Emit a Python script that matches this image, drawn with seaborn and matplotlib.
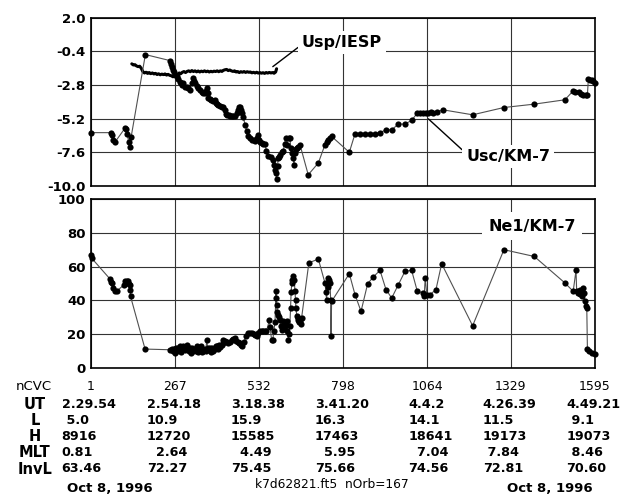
import numpy as np
import matplotlib
matplotlib.use("Agg")
import matplotlib.pyplot as plt
import matplotlib.transforms as mtransforms
import seaborn as sns

# data
usc_x = [1, 64, 68, 72, 76, 108, 112, 116, 120, 124, 128, 173, 251, 255, 258, 261, 265, 268, 272, 276,
         282, 285, 288, 292, 297, 304, 309, 314, 319, 325, 328, 330, 335, 340, 346, 352, 356, 361, 364, 367,
         370, 372, 376, 380, 388, 392, 396, 400, 404, 410, 414, 419, 424, 428, 432, 438, 442, 446, 451, 456,
         462, 467, 470, 472, 475, 478, 483, 488, 494, 499, 504, 509, 515, 520, 525, 528, 532, 537, 541, 546,
         551, 556, 562, 570, 578, 580, 583, 586, 588, 591, 593, 596, 599, 604, 609, 613, 618, 622, 626, 630,
         633, 636, 640, 643, 646, 649, 652, 656, 662, 688, 720, 741, 746, 752, 757, 762, 818, 836, 852, 867,
         883, 899, 915, 934, 952, 973, 994, 1015, 1033, 1043, 1052, 1060, 1068, 1075, 1082, 1094, 1113, 1208,
         1307, 1403, 1500, 1524, 1532, 1545, 1552, 1558, 1565, 1571, 1574, 1580, 1585, 1590, 1595]
usc_y = [-6.2, -6.2, -6.4, -6.7, -6.9, -5.9, -5.95, -6.3, -6.9, -7.2, -6.5, -0.64, -1.07, -1.3, -1.5, -1.73, -1.9, -2.1, -2.2, -2.4,
         -2.56, -2.7, -2.8, -2.65, -2.95, -2.92, -3.05, -3.15, -2.7, -2.32, -2.5, -2.68, -2.9, -3.0, -3.15, -3.3, -3.4, -3.39, -3.2, -3.03,
         -3.4, -3.74, -3.8, -3.9, -3.98, -3.9, -4.1, -4.15, -4.22, -4.3, -4.34, -4.34, -4.6, -4.9, -4.93, -4.95, -5.0, -5.05, -5.0, -4.98,
         -4.8, -4.57, -4.4, -4.34, -4.6, -4.81, -5.1, -5.64, -6.1, -6.47, -6.6, -6.71, -6.75, -6.83, -6.6, -6.4, -6.75, -6.9, -6.94, -7.0,
         -7.01, -7.5, -7.89, -7.9, -8.13, -8.5, -8.84, -9.1, -9.5, -8.6, -8.0, -7.9, -7.77, -7.6, -7.54, -7.0, -6.55, -7.06, -6.55, -6.6,
         -7.3, -7.65, -8.0, -8.48, -7.65, -7.4, -7.3, -7.2, -7.06, -9.2, -8.36, -7.06, -6.9, -6.71, -6.6, -6.47, -7.6, -6.28, -6.28, -6.28,
         -6.28, -6.28, -6.2, -6.0, -6.0, -5.59, -5.59, -5.33, -4.81, -4.79, -4.77, -4.77, -4.77, -4.76, -4.77, -4.75, -4.57, -4.93,
         -4.41, -4.17, -3.86, -3.27, -3.3, -3.3, -3.45, -3.51, -3.5, -3.5, -2.39, -2.42, -2.44, -2.55, -2.68]

usp_x = [130, 135, 140, 145, 150, 155, 160, 165, 170, 175, 180, 185, 190, 195, 200, 205, 210, 215, 220, 225,
         230, 235, 240, 245, 250, 255, 260, 265, 270, 275, 280, 285, 290, 295, 300, 305, 310, 315, 320, 325,
         330, 335, 340, 345, 350, 355, 360, 365, 370, 375, 380, 385, 390, 395, 400, 405, 410, 415, 420, 425,
         430, 435, 440, 445, 450, 455, 460, 465, 470, 475, 480, 485, 490, 495, 500, 505, 510, 515, 520, 525,
         530, 535, 540, 545, 550, 555, 560, 565, 570, 575, 580, 585, 588]
usp_y = [-1.30, -1.38, -1.36, -1.45, -1.50, -1.47, -1.62, -1.85, -1.95, -1.90, -1.98, -1.92, -2.00, -1.95, -2.02, -1.98, -2.06, -2.01, -2.08, -2.03,
         -2.07, -2.02, -2.10, -2.05, -2.12, -2.15, -2.22, -2.18, -2.10, -2.05, -1.95, -2.00, -1.90, -1.85, -1.92, -1.84, -1.80, -1.86, -1.78, -1.85,
         -1.80, -1.87, -1.81, -1.88, -1.82, -1.86, -1.80, -1.86, -1.82, -1.88, -1.83, -1.87, -1.82, -1.85, -1.80, -1.86, -1.80, -1.84, -1.76, -1.72,
         -1.70, -1.78, -1.74, -1.80, -1.84, -1.80, -1.88, -1.85, -1.92, -1.86, -1.90, -1.85, -1.91, -1.86, -1.90, -1.88, -1.94, -1.90, -1.95, -1.90,
         -1.96, -1.92, -1.97, -1.93, -1.98, -1.92, -1.96, -1.91, -1.95, -1.92, -1.97, -1.88, -1.65]

ne_x = [1, 3, 61, 64, 66, 71, 77, 82, 104, 108, 114, 119, 122, 124, 125, 126, 172, 251, 256, 260,
        264, 267, 271, 274, 277, 282, 286, 290, 293, 297, 300, 304, 308, 311, 314, 318, 321, 325, 329, 332,
        335, 339, 342, 346, 350, 353, 356, 360, 364, 367, 370, 374, 377, 381, 385, 388, 392, 395, 398, 402,
        406, 410, 414, 417, 419, 425, 430, 435, 440, 446, 451, 456, 460, 465, 469, 472, 475, 478, 485, 492,
        499, 504, 509, 515, 520, 525, 530, 535, 541, 546, 551, 556, 565, 568, 572, 576, 579, 583, 586, 587,
        588, 590, 593, 596, 599, 602, 604, 607, 609, 612, 614, 617, 620, 622, 625, 627, 630, 632, 634, 636,
        638, 641, 644, 646, 648, 649, 652, 655, 657, 660, 662, 664, 667, 690, 720, 741, 744, 746, 749, 752,
        755, 757, 759, 760, 762, 818, 836, 855, 876, 894, 915, 934, 952, 973, 994, 1015, 1033, 1052, 1055, 1058,
        1063, 1073, 1092, 1110, 1208, 1307, 1403, 1500, 1526, 1535, 1537, 1542, 1546, 1549, 1553, 1556, 1560, 1563, 1566, 1569,
        1571, 1577, 1585, 1595]
ne_y = [67, 65, 52.7, 51, 50.3, 47.4, 45.4, 45.4, 49, 51.3, 51.3, 51.3, 50, 49.3, 46.4, 42.4, 11.2, 10.8, 11.5, 9.8,
        11, 8.9, 12, 10, 11.8, 13, 9.5, 12, 12.8, 10.5, 12.5, 13.8, 12, 10, 11.8, 9, 12, 9.8, 11.5, 10,
        12.8, 9.5, 11, 10.8, 13, 9.2, 9.8, 11.5, 10, 16.3, 12, 10.5, 11.8, 9.5, 12, 9.8, 11, 13, 12.8, 11,
        13.5, 12.5, 13.8, 15, 16.3, 16, 15.5, 14.8, 15.5, 16.8, 17, 17.7, 16, 15.5, 14.5, 14.8, 13.5, 12.8, 15.5, 19,
        20.7, 21, 20.7, 20, 19.5, 18.7, 21, 21.7, 21.7, 21.7, 21.7, 21.7, 28.2, 24, 16.3, 16.3, 22, 27, 45.4, 41.4,
        37.5, 33, 31.6, 30, 28.6, 25, 22.7, 25, 27.6, 24, 25, 26, 27.6, 22, 16.8, 20, 25, 35.5, 45, 50.3,
        52, 54.2, 52, 45.4, 40, 35.5, 30.6, 29.5, 28.6, 27, 27.6, 26, 29.6, 62.2, 64.5, 50.3, 45, 40.4, 48, 53.3,
        52, 50.3, 40, 18.7, 39.4, 55.8, 43.4, 33.5, 49.9, 53.9, 57.8, 46.4, 41.4, 49.3, 57.2, 57.8, 45.4, 44.4, 42.8, 53.3,
        43.4, 43.4, 46.4, 61.7, 25, 70, 66, 50.3, 45.4, 57.8, 45.4, 44.4, 46.4, 44, 42.4, 47.4, 44.4, 39.4, 36.5, 35.5,
        11.2, 9.8, 8.9, 8.3]

ncvc_ticks = [1, 267, 532, 798, 1064, 1329, 1595]
top_yticks = [2.0, -0.4, -2.8, -5.2, -7.6, -10.0]
bot_yticks = [0, 20, 40, 60, 80, 100]

row_names = ["UT", "L", "H", "MLT", "InvL"]
ut_vals = ["2.29.54", "2.54.18", "3.18.38", "3.41.20", "4.4.2", "4.26.39", "4.49.21"]
l_vals = [" 5.0", "10.9", "15.9", "16.3", "14.1", "11.5", " 9.1"]
h_vals = ["8916", "12720", "15585", "17463", "18641", "19173", "19073"]
mlt_vals = ["0.81", "  2.64", "  4.49", "  5.95", "  7.04", " 7.84", " 8.46"]
invl_vals = ["63.46", "72.27", "75.45", "75.66", "74.56", "72.81", "70.60"]

sns.set_style("white")
plt.rcParams["font.family"] = ["DejaVu Sans"]
plt.rcParams["axes.unicode_minus"] = False
plt.rcParams["text.color"] = "black"
plt.rcParams["xtick.color"] = "black"
plt.rcParams["ytick.color"] = "black"

fig = plt.figure(figsize=(6.2, 4.99), dpi=100)
ax1 = fig.add_axes([91 / 620, 1 - 186 / 499, 504 / 620, 168.5 / 499])
ax2 = fig.add_axes([91 / 620, 1 - 368 / 499, 504 / 620, 169 / 499])

# top panel: potentials
sns.lineplot(x=usp_x, y=usp_y, ax=ax1, sort=False, estimator=None, color="black", lw=2.2)
sns.lineplot(x=usc_x, y=usc_y, ax=ax1, sort=False, estimator=None, color="#505050", lw=0.8)
sns.scatterplot(x=usc_x, y=usc_y, ax=ax1, color="black", s=20, linewidth=0, zorder=3, clip_on=False)

# bottom panel: density
sns.lineplot(x=ne_x, y=ne_y, ax=ax2, sort=False, estimator=None, color="#505050", lw=0.8)
sns.scatterplot(x=ne_x, y=ne_y, ax=ax2, color="black", s=20, linewidth=0, zorder=3, clip_on=False)

for ax in (ax1, ax2):
    ax.set_xlim(1, 1595)
    ax.set_xticks(ncvc_ticks)
    ax.set_axisbelow(True)
    ax.grid(True, color="#333333", lw=0.8)
    ax.tick_params(length=0, pad=4, colors="black")
    ax.set_xlabel("")
    ax.set_ylabel("")
    for sp in ax.spines.values():
        sp.set_color("black")
        sp.set_linewidth(1.2)

ax1.set_ylim(-10, 2)
ax1.set_yticks(top_yticks)
ax1.set_yticklabels([f"{v:.1f}" for v in top_yticks], fontsize=9.5, fontweight="bold")
ax1.set_xticklabels([])

ax2.set_ylim(0, 100)
ax2.set_yticks(bot_yticks)
ax2.set_yticklabels([str(v) for v in bot_yticks], fontsize=9.5, fontweight="bold")
ax2.set_xticklabels([str(v) for v in ncvc_ticks], fontsize=9)
ax2.tick_params(axis="x", pad=9)

box = dict(boxstyle="square,pad=0.25", fc="white", ec="none")
ax1.annotate("Usp/IESP", xy=(576, -1.5), xytext=(795, 0.19), fontsize=11.5, fontweight="bold",
             ha="center", va="center", bbox=box,
             arrowprops=dict(arrowstyle="-", color="black", lw=1, relpos=(0, 0.4), shrinkA=0, shrinkB=0))
ax1.annotate("Usc/KM-7", xy=(1068, -5.22), xytext=(1320, -7.89), fontsize=11.5, fontweight="bold",
             ha="center", va="center", bbox=box,
             arrowprops=dict(arrowstyle="-", color="black", lw=1, relpos=(0, 0.7), shrinkA=0, shrinkB=0))
ax2.text(1396, 83.8, "Ne1/KM-7", fontsize=11.5, fontweight="bold", ha="center", va="center",
         bbox=dict(boxstyle="square,pad=0.4", fc="white", ec="none"))

# table under the plot
trans = mtransforms.blended_transform_factory(ax2.transData, fig.transFigure)
col_left = [-92, 177, 443, 709, 1004, 1240, 1505]
row_py = [404.3, 420.3, 436.7, 452.3, 469]
fig.text(34 / 620, 1 - 386.7 / 499, "nCVC", fontsize=9.5, ha="center", va="center")
for name, vals, py in zip(row_names, [ut_vals, l_vals, h_vals, mlt_vals, invl_vals], row_py):
    fig.text(35 / 620, 1 - py / 499, name, fontsize=10.5, fontweight="bold", ha="center", va="center")
    for cx, v in zip(col_left, vals):
        fig.text(cx, 1 - py / 499, v, transform=trans, fontsize=9.2, fontweight="bold",
                 ha="left", va="center")

fig.text(110 / 620, 1 - 482 / 499, "Oct 8, 1996", fontsize=9.5, fontweight="bold", ha="center", va="top")
fig.text(550 / 620, 1 - 482 / 499, "Oct 8, 1996", fontsize=9.5, fontweight="bold", ha="center", va="top")
fig.text(332 / 620, 1 - 478 / 499, "k7d62821.ft5  nOrb=167", fontsize=8.8, ha="center", va="top")

fig.savefig("out.png", dpi=100)
